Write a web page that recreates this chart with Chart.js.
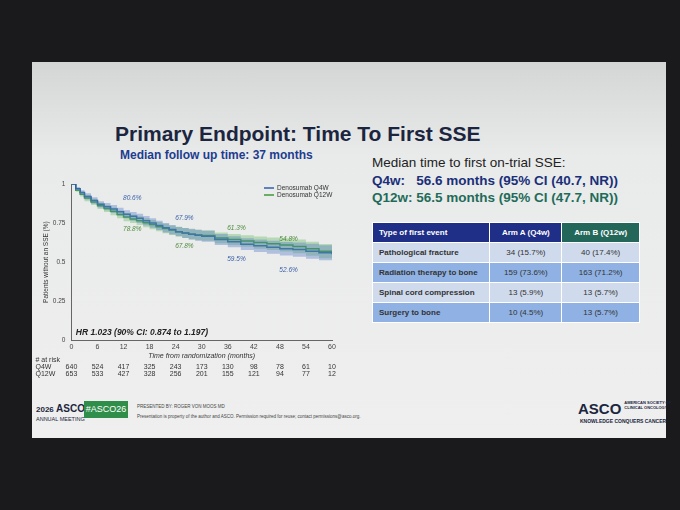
<!DOCTYPE html>
<html><head><meta charset="utf-8">
<script src="https://cdn.jsdelivr.net/npm/chart.js@4"></script>
<style>
body{margin:0;width:680px;height:510px;background:#1a1a1c;font-family:Arial,"Liberation Sans",sans-serif;overflow:hidden;position:relative}
#slide{position:absolute;left:32px;top:62px;width:634px;height:376px;background:linear-gradient(#d4d6d5,#e9ebea 25%,#eeefee);}
.abs{position:absolute}
table{border-collapse:collapse;font-size:8px}
td{height:19px;border:1px solid #fff;padding:0 6px}
</style></head><body>
<div id="slide"></div>
<div class="abs" style="left:115px;top:122px;font-size:21px;font-weight:bold;color:#1c2540">Primary Endpoint: Time To First SSE</div>
<div class="abs" style="left:120px;top:148px;font-size:12px;font-weight:bold;color:#213c8f">Median follow up time: 37 months</div>
<div class="abs" style="left:372px;top:155px;font-size:13.5px;color:#222">Median time to first on-trial SSE:</div>
<div class="abs" style="left:372px;top:173px;font-size:13.5px;font-weight:bold;color:#1a2f7a">Q4w:&nbsp;&nbsp; 56.6 months (95% CI (40.7, NR))</div>
<div class="abs" style="left:372px;top:190px;font-size:13.5px;font-weight:bold;color:#1f6b5a">Q12w: 56.5 months (95% CI (47.7, NR))</div>
<table class="abs" style="left:372px;top:222px;width:268px">
<tr style="color:#fff;font-weight:bold"><td style="background:#1f2e86;width:44%">Type of first event</td><td style="background:#1f2e86;text-align:center">Arm A (Q4w)</td><td style="background:#23675a;text-align:center">Arm B (Q12w)</td></tr>
<tr style="background:#cfdaec;color:#333"><td style="font-weight:bold">Pathological fracture</td><td align="center">34 (15.7%)</td><td align="center">40 (17.4%)</td></tr>
<tr style="background:#8fb1e3;color:#333"><td style="font-weight:bold">Radiation therapy to bone</td><td align="center">159 (73.6%)</td><td align="center">163 (71.2%)</td></tr>
<tr style="background:#cfdaec;color:#333"><td style="font-weight:bold">Spinal cord compression</td><td align="center">13 (5.9%)</td><td align="center">13 (5.7%)</td></tr>
<tr style="background:#8fb1e3;color:#333"><td style="font-weight:bold">Surgery to bone</td><td align="center">10 (4.5%)</td><td align="center">13 (5.7%)</td></tr>
</table>
<div class="abs" style="left:30px;top:172px;width:310px;height:212px"><canvas id="c"></canvas></div>
<div class="abs" style="left:36px;top:404px;font-size:8px;font-weight:bold;color:#1c2540;line-height:9px">2026 <span style="font-size:10px">ASCO</span><br><span style="font-size:5.5px;font-weight:normal">ANNUAL MEETING</span></div>
<div class="abs" style="left:84px;top:401px;width:44px;height:17px;background:#2f8f4a;color:#fff;font-size:9px;line-height:17px;text-align:center">#ASCO26</div>
<div class="abs" style="left:137px;top:404px;font-size:4.5px;color:#444">PRESENTED BY: ROGER VON MOOS MD<br><br>Presentation is property of the author and ASCO. Permission required for reuse; contact permissions@asco.org.</div>
<div class="abs" style="left:578px;top:400px;font-size:15px;font-weight:bold;color:#1c2540">ASCO<span style="font-size:4px;display:inline-block;vertical-align:top;line-height:5px;margin-left:3px">AMERICAN SOCIETY OF<br>CLINICAL ONCOLOGY</span></div>
<div class="abs" style="left:580px;top:418px;font-size:5px;color:#1c2540;font-weight:bold">KNOWLEDGE CONQUERS CANCER</div>
<script>
const months=[0,1,2,3,4.5,6,7.5,9,10.5,12,13.5,15,16.5,18,19.5,21,22.5,24,25.5,27,28.5,30,33,36,39,42,45,48,51,54,57,60];
const q4w=[1,0.97,0.945,0.92,0.895,0.87,0.855,0.84,0.822,0.806,0.793,0.78,0.765,0.75,0.735,0.72,0.708,0.695,0.687,0.679,0.672,0.665,0.645,0.63,0.615,0.605,0.595,0.585,0.58,0.57,0.56,0.55];
const q4wLo=[1,0.96,0.93,0.90,0.873,0.85,0.832,0.815,0.797,0.78,0.765,0.75,0.735,0.72,0.705,0.69,0.677,0.665,0.655,0.645,0.637,0.63,0.61,0.595,0.578,0.565,0.553,0.542,0.535,0.522,0.512,0.50];
const q4wHi=[1,0.98,0.96,0.94,0.915,0.89,0.878,0.865,0.848,0.832,0.821,0.81,0.795,0.78,0.765,0.75,0.738,0.725,0.719,0.713,0.707,0.70,0.68,0.665,0.652,0.645,0.637,0.628,0.625,0.618,0.608,0.60];
const q12w=[1,0.96,0.935,0.91,0.885,0.86,0.843,0.825,0.805,0.788,0.776,0.765,0.752,0.74,0.727,0.715,0.705,0.695,0.687,0.678,0.674,0.67,0.655,0.645,0.635,0.625,0.618,0.61,0.60,0.585,0.57,0.555];
const q12wLo=[1,0.95,0.92,0.89,0.865,0.84,0.82,0.80,0.78,0.762,0.75,0.737,0.723,0.71,0.697,0.685,0.674,0.664,0.654,0.645,0.64,0.636,0.62,0.61,0.598,0.586,0.578,0.568,0.556,0.54,0.524,0.505];
const q12wHi=[1,0.97,0.95,0.93,0.905,0.88,0.865,0.85,0.831,0.814,0.803,0.793,0.781,0.77,0.757,0.745,0.735,0.726,0.718,0.711,0.707,0.704,0.69,0.68,0.672,0.664,0.658,0.652,0.644,0.63,0.616,0.605];
const xTicks=[0,6,12,18,24,30,36,42,48,54,60];
const riskQ4w=[640,524,417,325,243,173,130,98,78,61,10];
const riskQ12w=[653,533,427,328,256,201,155,121,94,77,12];
const labels=[[12,0.806,'80.6%','b',-1],[12,0.788,'78.8%','g',1],[24,0.679,'67.9%','b',-1],[24,0.678,'67.8%','g',1],[36,0.613,'61.3%','g',-1],[36,0.595,'59.5%','b',1],[48,0.548,'54.8%','g',-1],[48,0.526,'52.6%','b',1]];
const B='#2f5fb0',G='#3f9a3a';
const pts=(ys)=>months.map((m,i)=>({x:m,y:ys[i]}));
const ds=(d,c,extra)=>Object.assign({data:pts(d),borderColor:c,stepped:true,pointRadius:0,borderWidth:1.5,fill:false},extra||{});
const overlay={id:'ov',afterDraw(ch){const x=ch.scales.x,y=ch.scales.y,c=ch.ctx;c.save();
c.font='italic 6.5px Arial';c.textAlign='center';
labels.forEach(l=>{c.fillStyle=l[3]=='b'?'#3a5fa8':'#4b8a3a';c.fillText(l[2],x.getPixelForValue(l[0]+2),y.getPixelForValue(l[1])+l[4]*14);});
c.font='bold italic 8.5px Arial';c.fillStyle='#222';c.textAlign='left';c.fillText('HR 1.023 (90% CI: 0.874 to 1.197)',x.getPixelForValue(1),y.getPixelForValue(0)-5);
c.font='7px Arial';c.fillStyle='#333';c.textAlign='center';
xTicks.forEach((t,i)=>{const px=x.getPixelForValue(t);c.fillText(riskQ4w[i],px,y.bottom+29);c.fillText(riskQ12w[i],px,y.bottom+36);});
c.textAlign='left';c.fillText('# at risk',x.left-36,y.bottom+22);c.fillText('Q4W',x.left-36,y.bottom+29);c.fillText('Q12W',x.left-36,y.bottom+36);
c.font='6.5px Arial';c.strokeStyle=B;c.lineWidth=1.5;c.beginPath();c.moveTo(x.right-68,y.top+4);c.lineTo(x.right-58,y.top+4);c.stroke();
c.strokeStyle=G;c.beginPath();c.moveTo(x.right-68,y.top+11);c.lineTo(x.right-58,y.top+11);c.stroke();
c.fillStyle='#333';c.fillText('Denosumab Q4W',x.right-55,y.top+6);c.fillText('Denosumab Q12W',x.right-55,y.top+13);
c.restore();}};
new Chart(document.getElementById('c'),{type:'line',data:{datasets:[
ds(q4wHi,'rgba(0,0,0,0)',{borderWidth:0}),
ds(q4wLo,'rgba(0,0,0,0)',{borderWidth:0,fill:'-1',backgroundColor:'rgba(70,110,200,0.35)'}),
ds(q12wHi,'rgba(0,0,0,0)',{borderWidth:0}),
ds(q12wLo,'rgba(0,0,0,0)',{borderWidth:0,fill:'-1',backgroundColor:'rgba(90,180,80,0.35)'}),
ds(q4w,B),ds(q12w,G)]},
options:{animation:false,responsive:true,maintainAspectRatio:false,layout:{padding:{left:12,right:8,top:12,bottom:24}},
plugins:{legend:{display:false},tooltip:{enabled:false}},
scales:{x:{type:'linear',min:0,max:60,afterBuildTicks:s=>{s.ticks=xTicks.map(v=>({value:v}));},grid:{display:false,drawOnChartArea:false,tickLength:3},border:{color:'#666'},ticks:{color:'#444',font:{size:7},padding:0},
title:{display:true,text:'Time from randomization (months)',color:'#333',font:{size:7,style:'italic'},padding:0}},
y:{min:0,max:1,afterBuildTicks:s=>{s.ticks=[0,0.25,0.5,0.75,1].map(v=>({value:v}));},grid:{display:false,drawOnChartArea:false,tickLength:3},border:{color:'#666'},ticks:{color:'#444',font:{size:6.5},callback:v=>String(v)},
title:{display:true,text:'Patients without an SSE (%)',color:'#333',font:{size:6.5},padding:0}}}},plugins:[overlay]});
</script></body></html>
